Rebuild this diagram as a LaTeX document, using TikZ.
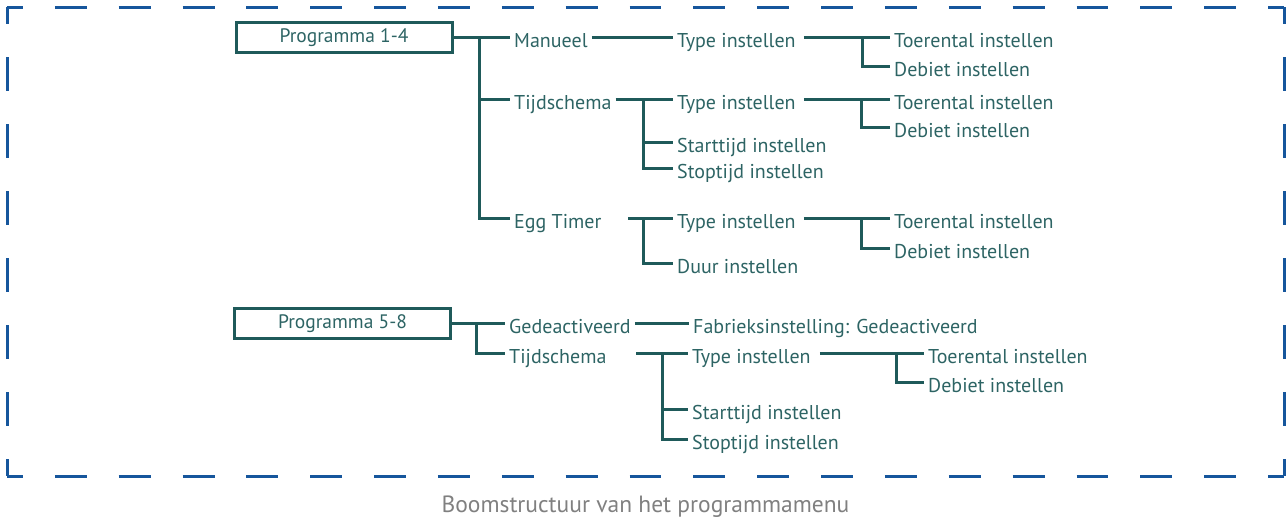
\documentclass[tikz,border=0pt]{standalone}
\usepackage{fontspec}
\setmainfont{PT Sans}
\definecolor{treeline}{RGB}{31,90,90}
\definecolor{treetext}{RGB}{45,100,100}
\definecolor{frameblue}{RGB}{22,86,156}
\definecolor{captiongray}{RGB}{128,128,128}
\tikzset{
  conn/.style={
    draw=treeline,
    line width=3pt
  },
  item/.style={
    anchor=west,
    inner xsep=4pt,
    inner ysep=0pt,
    text height=25pt,
    text depth=5pt,
    font=\fontsize{20}{24}\selectfont,
    text=treetext
  },
  prog/.style={
    draw=treeline,
    line width=3pt,
    minimum width=216pt,
    minimum height=30pt,
    inner sep=0pt,
    font=\fontsize{19.5}{23}\selectfont,
    text=treetext
  },
  dashframe/.style={
    draw=frameblue,
    line width=3pt
  },
  caption/.style={
    anchor=base,
    font=\fontsize{23.5}{28}\selectfont,
    text=captiongray
  }
}
\begin{document}
\begin{tikzpicture}[x=1pt, y=-1pt]
  \useasboundingbox (0,0) rectangle (1287,517);
  \coordinate (nw) at (7,7);
  \coordinate (ne) at (1284,7);
  \coordinate (sw) at (7,476);
  \coordinate (se) at (1284,476);
  \draw[dashframe, dash pattern=on 31.925pt off 31.925pt, dash phase=15.96pt] (nw) -- (ne);
  \draw[dashframe, dash pattern=on 31.925pt off 31.925pt, dash phase=15.96pt] (sw) -- (se);
  \draw[dashframe, dash pattern=on 33.5pt off 33.5pt, dash phase=16.75pt] (nw) -- (sw);
  \draw[dashframe, dash pattern=on 33.5pt off 33.5pt, dash phase=16.75pt] (ne) -- (se);

  \node[prog] (p14) at (344,37.5) {Programma 1-4};
  \node[item] (man) at (510,37.5) {Manueel};
  \node[item] (tijd) at (510,99) {Tijdschema};
  \node[item] (egg) at (510,218) {Egg Timer};
  \node[item] (mtype) at (673,37.5) {Type instellen};
  \node[item] (ttype) at (673,99) {Type instellen};
  \node[item] (tstart) at (673,142) {Starttijd instellen};
  \node[item] (tstop) at (673,168) {Stoptijd instellen};
  \node[item] (etype) at (673,218) {Type instellen};
  \node[item] (eduur) at (673,263) {Duur instellen};
  \node[item] (mtoer) at (890,37.5) {Toerental instellen};
  \node[item] (mdeb) at (890,66) {Debiet instellen};
  \node[item] (ttoer) at (890,99) {Toerental instellen};
  \node[item] (tdeb) at (890,127) {Debiet instellen};
  \node[item] (etoer) at (890,218) {Toerental instellen};
  \node[item] (edeb) at (890,248) {Debiet instellen};

  \node[prog] (p58) at (342.5,323.5) {Programma 5-8};
  \node[item] (ged) at (505,323.5) {Gedeactiveerd};
  \node[item] (btijd) at (505,353) {Tijdschema};
  \node[item] (fabr) at (689,323.5) {Fabrieksinstelling: Gedeactiveerd};
  \node[item] (btype) at (688,353) {Type instellen};
  \node[item] (bstart) at (688,409) {Starttijd instellen};
  \node[item] (bstop) at (688,439) {Stoptijd instellen};
  \node[item] (btoer) at (924,353) {Toerental instellen};
  \node[item] (bdeb) at (924,382) {Debiet instellen};

  \coordinate (j14) at (479,37.5);
  \coordinate (jt) at (643,99);
  \coordinate (eggstub) at (628,218);
  \coordinate (je) at (643,218);
  \coordinate (jm2) at (862,37.5);
  \coordinate (jt2) at (861,99);
  \coordinate (je2) at (861,218);
  \coordinate (j58) at (476,323.5);
  \coordinate (btstub) at (636,353);
  \coordinate (jb) at (662,353);
  \coordinate (jb2) at (896,353);

  \draw[conn] (p14.east) -- (j14) |- (egg.west);
  \draw[conn] (j14 |- tijd.west) -- (tijd.west);
  \draw[conn] (j14) -- (man.west);
  \draw[conn] (man.east) -- (mtype.west);
  \draw[conn] (tijd.east) -- (ttype.west);
  \draw[conn] (jt) |- (tstop.west);
  \draw[conn] (jt |- tstart.west) -- (tstart.west);
  \draw[conn] (eggstub) -- (etype.west);
  \draw[conn] (je) |- (eduur.west);
  \draw[conn] ([xshift=4pt]mtype.east) -- (mtoer.west);
  \draw[conn] (jm2) |- (mdeb.west);
  \draw[conn] ([xshift=4pt]ttype.east) -- (ttoer.west);
  \draw[conn] (jt2) |- (tdeb.west);
  \draw[conn] ([xshift=4pt]etype.east) -- (etoer.west);
  \draw[conn] (je2) |- (edeb.west);

  \draw[conn] (p58.east) -- (j58) |- (btijd.west);
  \draw[conn] (j58) -- (ged.west);
  \draw[conn] (ged.east) -- (fabr.west);
  \draw[conn] (btstub) -- (btype.west);
  \draw[conn] (jb) |- (bstop.west);
  \draw[conn] (jb |- bstart.west) -- (bstart.west);
  \draw[conn] ([xshift=5pt]btype.east) -- (btoer.west);
  \draw[conn] (jb2) |- (bdeb.west);

  \node[caption] (cap) at (645.5,512) {Boomstructuur van het programmamenu};
\end{tikzpicture}
\end{document}
